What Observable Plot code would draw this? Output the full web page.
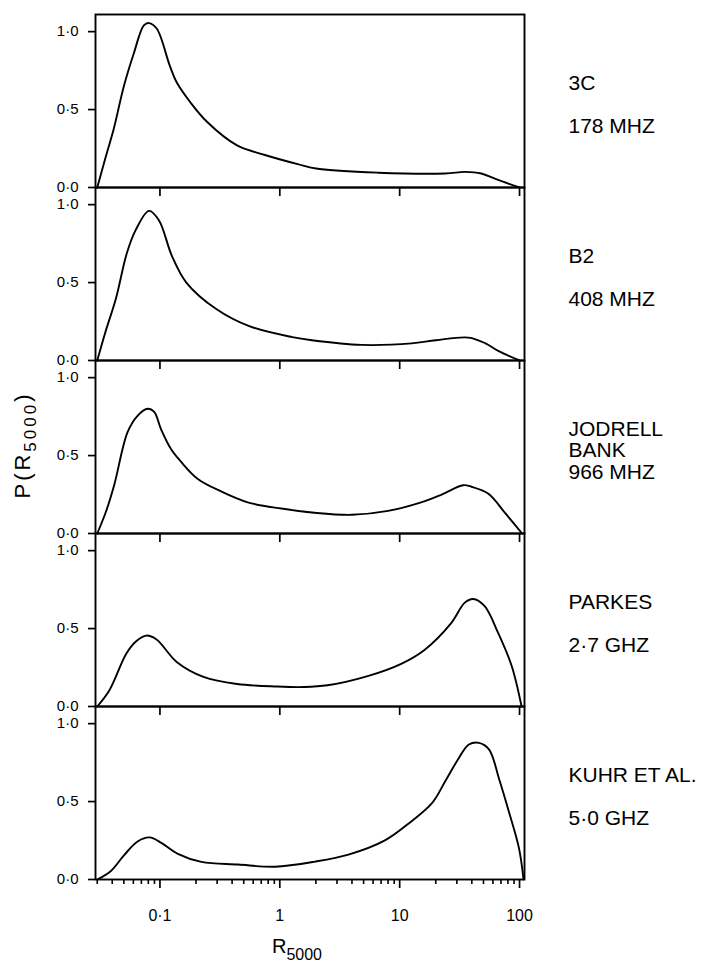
<!DOCTYPE html>
<html><head><meta charset="utf-8">
<script src="https://cdn.jsdelivr.net/npm/d3@7"></script>
<script src="https://cdn.jsdelivr.net/npm/@observablehq/plot@0.6"></script>
<style>body{margin:0;background:#fff}</style>
</head><body><div id="chart"></div>
<script>
// Panels (top to bottom)
const panels = ["3C", "B2", "JB", "PKS", "KUHR"];
const names = ["3C", "B2", "JODRELL\nBANK", "PARKES", "KUHR ET AL."];
const freqs = ["178 MHZ", "408 MHZ", "966 MHZ", "2·7 GHZ", "5·0 GHZ"];

// Curves: R5000 values and P(R5000)
const x3C = [0.03, 0.036, 0.041, 0.050, 0.0605, 0.0734, 0.081, 0.094, 0.121, 0.139, 0.178, 0.248, 0.44, 0.74, 1.41, 2.07, 6.6, 24, 35, 48, 63, 100];
const y3C = [0, 0.22, 0.37, 0.65, 0.86, 1.04, 1.055, 1.02, 0.78, 0.67, 0.55, 0.42, 0.27, 0.21, 0.15, 0.12, 0.095, 0.09, 0.10, 0.09, 0.055, 0];

const xB2 = [0.03, 0.035, 0.043, 0.053, 0.063, 0.081, 0.098, 0.126, 0.166, 0.295, 0.556, 1.27, 1.85, 4.8, 12.6, 20, 37.6, 52, 67, 100];
const yB2 = [0, 0.18, 0.40, 0.69, 0.84, 0.96, 0.90, 0.67, 0.50, 0.33, 0.22, 0.15, 0.13, 0.10, 0.11, 0.13, 0.147, 0.11, 0.06, 0];

const xJB = [0.03, 0.0353, 0.0415, 0.0537, 0.065, 0.079, 0.0896, 0.102, 0.124, 0.15, 0.207, 0.324, 0.54, 1.03, 1.95, 3.98, 8.0, 15.1, 22.4, 33.8, 39.8, 55, 76, 105];
const yJB = [0, 0.136, 0.31, 0.65, 0.755, 0.80, 0.78, 0.67, 0.54, 0.46, 0.35, 0.27, 0.20, 0.16, 0.133, 0.12, 0.145, 0.20, 0.25, 0.31, 0.30, 0.255, 0.13, 0];

const xPKS = [0.03, 0.038, 0.0525, 0.0637, 0.077, 0.0937, 0.138, 0.231, 0.44, 0.955, 1.58, 2.5, 5.4, 10.3, 16.1, 27, 34.8, 41, 51, 66, 86, 104];
const yPKS = [0, 0.106, 0.34, 0.42, 0.455, 0.43, 0.286, 0.19, 0.144, 0.128, 0.125, 0.136, 0.195, 0.274, 0.363, 0.537, 0.665, 0.69, 0.645, 0.475, 0.26, 0];

const xKUHR = [0.03, 0.039, 0.0507, 0.0655, 0.082, 0.1026, 0.141, 0.222, 0.45, 0.91, 1.97, 3.74, 7.6, 11.9, 18.6, 24, 31.2, 37.8, 45.8, 55.6, 67.5, 81.5, 99, 108];
const yKUHR = [0, 0.055, 0.16, 0.245, 0.27, 0.235, 0.165, 0.113, 0.096, 0.082, 0.115, 0.16, 0.253, 0.36, 0.49, 0.63, 0.78, 0.866, 0.877, 0.835, 0.645, 0.435, 0.2, 0];

// Ticks
const decades = [0.1, 1, 10, 100];
const minorTicks = [0.03,0.04,0.05,0.06,0.07,0.08,0.09, 0.2,0.3,0.4,0.5,0.6,0.7,0.8,0.9, 2,3,4,5,6,7,8,9, 20,30,40,50,60,70,80,90];
const yTicks = [0, 0.5, 1];
const yMax = 1.11;

const series = [[x3C, y3C], [xB2, yB2], [xJB, yJB], [xPKS, yPKS], [xKUHR, yKUHR]];
const curveData = panels.flatMap((p, i) => series[i][0].map((x, j) => ({panel: p, x, y: series[i][1][j]})));
const topTicks = panels.slice(1).flatMap(p => decades.map(x => ({panel: p, x})));
const labelRows = panels.map((p, i) => ({panel: p, name: names[i], freq: freqs[i]}));
const fmtX = d => String(d).replace(".", "·");
const fmtY = d => d.toFixed(1).replace(".", "·");

const chart = Plot.plot({
  width: 707, height: 962,
  marginLeft: 95, marginRight: 183, marginTop: 13, marginBottom: 83,
  style: {fontFamily: "'Liberation Sans', Arial, sans-serif", fontSize: "15px", color: "#000", background: "#fff", overflow: "visible"},
  x: {type: "log", domain: [0.029, 110]},
  y: {domain: [0, yMax]},
  fy: {domain: panels, padding: 0, axis: null},
  marks: [
    Plot.frame({strokeWidth: 1.9}),
    Plot.ruleX(topTicks, {x: "x", fy: "panel", y1: yMax, y2: yMax - 0.058, strokeWidth: 1.7}),
    Plot.axisY(yTicks, {tickFormat: fmtY, tickSize: 7, tickPadding: 10, fontSize: 15, strokeWidth: 1.7, label: null}),
    Plot.axisX(minorTicks, {tickSize: 5, tickFormat: () => "", strokeWidth: 1.6, label: null}),
    Plot.axisX(decades, {tickSize: 9, tickPadding: 21, tickFormat: fmtX, fontSize: 16, strokeWidth: 1.7, label: null}),
    Plot.line(curveData, {x: "x", y: "y", fy: "panel", curve: "catmull-rom", strokeWidth: 1.9}),
    Plot.text(labelRows, {fy: "panel", text: "name", frameAnchor: "top-right", textAnchor: "start", lineAnchor: "top", dx: 44, dy: 60, fontSize: 21, lineHeight: 1.02}),
    Plot.text(labelRows, {fy: "panel", text: "freq", frameAnchor: "top-right", textAnchor: "start", lineAnchor: "top", dx: 44, dy: 104, fontSize: 21})
  ]
});

const svg = d3.select(chart);
// x title R_5000
const xt = svg.append("text").attr("x", 297).attr("y", 953).attr("font-size", 20).attr("fill", "#000");
xt.append("tspan").text("R");
xt.append("tspan").attr("font-size", 16).attr("dy", 7).text("5000");
// y title P(R_5000)
const yt = svg.append("text").attr("transform", "translate(30,445) rotate(-90)")
  .attr("text-anchor", "middle").attr("font-size", 22).attr("letter-spacing", 3).attr("fill", "#000");
yt.append("tspan").text("P(R");
yt.append("tspan").attr("font-size", 17).attr("dy", 6).text("5000");
yt.append("tspan").attr("dy", -6).text(")");

document.getElementById("chart").append(chart);
</script>
</body></html>
